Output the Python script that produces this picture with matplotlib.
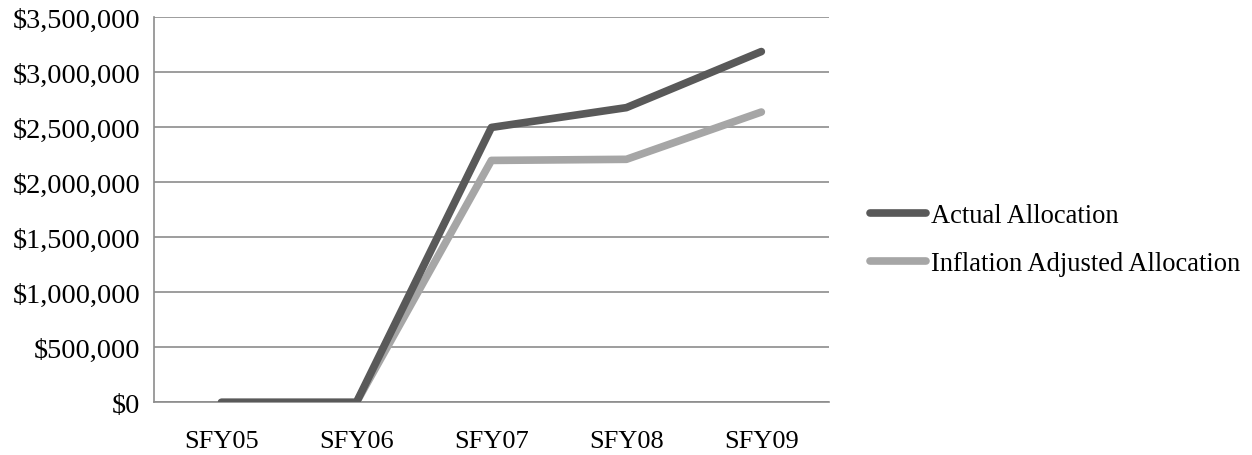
import matplotlib.pyplot as plt
from matplotlib.ticker import FuncFormatter

plt.rcParams['font.family'] = ['Liberation Serif', 'DejaVu Serif']

years = ["SFY05", "SFY06", "SFY07", "SFY08", "SFY09"]
actual = [0, 0, 2500000, 2680000, 3190000]
inflation_adj = [0, 0, 2200000, 2210000, 2640000]

fig = plt.figure(figsize=(12.52, 4.56), dpi=100)
ax = fig.add_axes([0.123, 0.1155, 0.539, 0.844])

x = range(len(years))
ax.plot(x, inflation_adj, color="#a6a6a6", lw=5.5, solid_capstyle="round",
        solid_joinstyle="round", label="Inflation Adjusted Allocation", zorder=3)
ax.plot(x, actual, color="#595959", lw=5.5, solid_capstyle="round",
        solid_joinstyle="round", label="Actual Allocation", zorder=4)

ax.set_xlim(-0.5, len(years) - 0.5)
ax.set_ylim(0, 3500000)
ax.set_yticks(range(0, 3500001, 500000))
ax.yaxis.set_major_formatter(FuncFormatter(lambda v, p: f"${v:,.0f}"))
ax.set_xticks(list(x))
ax.set_xticklabels(years)

ax.grid(axis="y", color="#8c8c8c", lw=1.2)
ax.set_axisbelow(True)
for s in ("top", "right"):
    ax.spines[s].set_visible(False)
for s in ("left", "bottom"):
    ax.spines[s].set_color("#8c8c8c")
    ax.spines[s].set_linewidth(1.2)
ax.tick_params(axis="both", length=0, colors="black")
ax.tick_params(axis="y", pad=10, labelsize=20.3)
ax.tick_params(axis="x", pad=20, labelsize=19)

handles, labels = ax.get_legend_handles_labels()
fig.legend(handles[::-1], labels[::-1], loc="center left",
           bbox_to_anchor=(0.695, 0.472), frameon=False, fontsize=19.1,
           borderpad=0, borderaxespad=0,
           handlelength=2.1, handletextpad=0.2, labelspacing=0.85)

fig.savefig("out.png", dpi=100)
